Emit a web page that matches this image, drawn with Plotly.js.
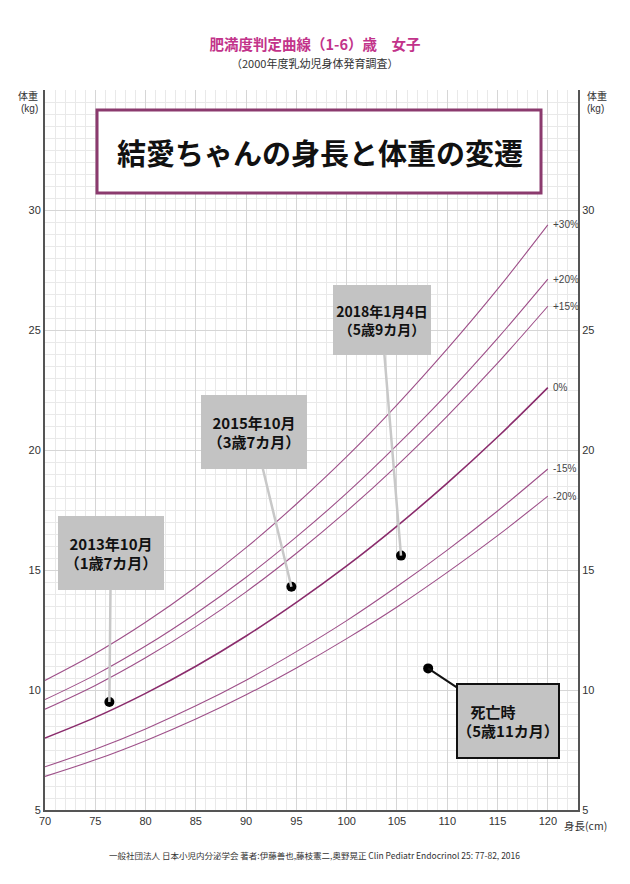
<!DOCTYPE html>
<html>
<head>
<meta charset="utf-8">
<script src="https://cdn.plot.ly/plotly-3.0.1.min.js"></script>
<style>html,body{margin:0;padding:0;background:#fff;}#chart{width:630px;height:884px;}</style>
</head>
<body>
<div id="chart"></div>
<script>
// Height (cm)
const heights = [70, 75, 80, 85, 90, 95, 100, 105, 110, 115, 120];
// Weight curves (kg) by overweight degree
const curvePlus30  = [10.40, 11.52, 12.82, 14.29, 15.93, 17.75, 19.72, 21.88, 24.21, 26.70, 29.38];
const curvePlus20  = [9.60, 10.63, 11.83, 13.19, 14.70, 16.38, 18.20, 20.20, 22.34, 24.65, 27.12];
const curvePlus15  = [9.20, 10.19, 11.34, 12.64, 14.09, 15.70, 17.45, 19.35, 21.41, 23.62, 25.99];
const curveZero    = [8.00, 8.86, 9.86, 10.99, 12.25, 13.65, 15.17, 16.83, 18.62, 20.54, 22.60];
const curveMinus15 = [6.80, 7.53, 8.38, 9.34, 10.41, 11.60, 12.89, 14.31, 15.83, 17.46, 19.21];
const curveMinus20 = [6.40, 7.09, 7.89, 8.79, 9.80, 10.92, 12.14, 13.46, 14.90, 16.43, 18.08];
const curveLabels = ['+30%', '+20%', '+15%', '0%', '-15%', '-20%'];

// Measurements of the child
const pointHeights = [76.4, 94.5, 105.4, 108.1];
const pointWeights = [9.5, 14.3, 15.6, 10.9];
const pointLabels = [
  '2013年10月<br>（1歳7カ月）',
  '2015年10月<br>（3歳7カ月）',
  '2018年1月4日<br>（5歳9カ月）',
  '死亡時　　<br>（5歳11カ月）'
];

const xTicks = [70, 75, 80, 85, 90, 95, 100, 105, 110, 115, 120];
const yTicks = [5, 10, 15, 20, 25, 30];

const curves = [curvePlus30, curvePlus20, curvePlus15, curveZero, curveMinus15, curveMinus20];
const traces = curves.map((c, i) => ({
  x: heights, y: c, type: 'scatter', mode: 'lines',
  line: {shape: 'spline', color: i === 3 ? '#8a2c6c' : '#9e5089', width: i === 3 ? 1.6 : 1.1},
  hoverinfo: 'skip', showlegend: false
}));
traces.push({
  x: pointHeights, y: pointWeights, type: 'scatter', mode: 'markers',
  marker: {color: '#000', size: 10}, showlegend: false, hoverinfo: 'skip'
});
traces.push({
  x: [70], y: [5], yaxis: 'y2', type: 'scatter', mode: 'markers',
  marker: {opacity: 0}, showlegend: false, hoverinfo: 'skip'
});

const tickFont = {family: 'Liberation Sans, Arial, sans-serif', size: 11, color: '#333'};
const jp = 'Noto Sans CJK JP, sans-serif';

const annotations = [];
curves.forEach((c, i) => {
  annotations.push({
    x: 120.3, y: c[c.length - 1], xref: 'x', yref: 'y', xanchor: 'left', yanchor: 'middle',
    text: curveLabels[i], showarrow: false,
    font: {family: 'Liberation Sans, Arial, sans-serif', size: 10, color: '#444'}
  });
});
const boxOffsets = [[1.5, -149], [-37.5, -155], [-19.5, -236], [80, 53]];
const boxSizes = [[100, 68], [100, 68], [92, 64], [94, 66]];
pointLabels.forEach((t, i) => {
  annotations.push({
    x: pointHeights[i], y: pointWeights[i], xref: 'x', yref: 'y',
    text: '<b>' + t + '</b>', showarrow: true, arrowhead: 0, standoff: 0,
    ax: boxOffsets[i][0], ay: boxOffsets[i][1],
    arrowcolor: i === 3 ? '#111' : '#c8c8c8', arrowwidth: i === 3 ? 2 : 2.5,
    bgcolor: '#c3c3c3', bordercolor: i === 3 ? '#111' : 'rgba(0,0,0,0)', borderwidth: i === 3 ? 2 : 0,
    borderpad: 3, width: boxSizes[i][0], height: boxSizes[i][1],
    align: 'center', valign: 'middle',
    font: {family: jp, size: i === 2 ? 14 : 15, color: '#111'}
  });
});
annotations.push({
  x: 0.516, y: 0.9139, xref: 'paper', yref: 'paper', showarrow: false, yanchor: 'middle',
  text: '<b>結愛ちゃんの身長と体重の変遷</b>',
  font: {family: jp, size: 29, color: '#111'}
});
annotations.push({
  x: 0.505, y: 1.0375, xref: 'paper', yref: 'paper', showarrow: false, yanchor: 'middle',
  text: '（2000年度乳幼児身体発育調査）', font: {family: jp, size: 11, color: '#333'}
});
// weight axis titles, left and right (two lines each)
[[-0.009, 'right'], [1.013, 'left']].forEach(([px, anc]) => {
  annotations.push({
    x: px, y: 0.9917, xref: 'paper', yref: 'paper', xanchor: anc, yanchor: 'middle', showarrow: false,
    text: '体重', font: {family: jp, size: 10, color: '#333'}
  });
  annotations.push({
    x: px, y: 0.9745, xref: 'paper', yref: 'paper', xanchor: anc, yanchor: 'middle', showarrow: false,
    text: '(kg)', font: {family: 'Liberation Sans, Arial, sans-serif', size: 10, color: '#333'}
  });
});
annotations.push({
  x: 0.970, y: -0.021, xref: 'paper', yref: 'paper', xanchor: 'left', yanchor: 'middle', showarrow: false,
  text: '身長(cm)', font: {family: jp, size: 10.5, color: '#333'}
});
annotations.push({
  x: 0.505, y: -0.0625, xref: 'paper', yref: 'paper', showarrow: false, yanchor: 'middle',
  text: '一般社団法人 日本小児内分泌学会 著者:伊藤善也,藤枝憲二,奥野晃正 Clin Pediatr Endocrinol 25: 77-82, 2016',
  font: {family: jp, size: 8.5, color: '#333'}
});

const layout = {
  width: 630, height: 884,
  margin: {l: 45, r: 52, t: 90, b: 74},
  paper_bgcolor: '#fff', plot_bgcolor: '#fff',
  title: {
    text: '<b>肥満度判定曲線（1-6）歳　女子</b>', x: 0.5, xanchor: 'center',
    y: 1 - 45 / 884, yanchor: 'middle', yref: 'container',
    font: {family: jp, size: 14.5, color: '#c2338a'}
  },
  xaxis: {
    range: [70, 123], tickvals: xTicks, ticks: '', tickfont: tickFont,
    showgrid: true, gridcolor: '#d6d6d6', gridwidth: 1,
    minor: {dtick: 1, tick0: 70, showgrid: true, gridcolor: '#e9e9e9', gridwidth: 1},
    showline: true, linecolor: '#555', linewidth: 2, zeroline: false, fixedrange: true
  },
  yaxis: {
    range: [5, 35], tickvals: yTicks, ticks: '', tickfont: tickFont,
    showgrid: true, gridcolor: '#d6d6d6', gridwidth: 1,
    minor: {dtick: 0.5, tick0: 5, showgrid: true, gridcolor: '#e9e9e9', gridwidth: 1},
    showline: true, linecolor: '#555', linewidth: 2, zeroline: false, fixedrange: true
  },
  yaxis2: {
    range: [5, 35], tickvals: yTicks, ticks: '', tickfont: tickFont,
    overlaying: 'y', side: 'right', showgrid: false,
    showline: true, linecolor: '#555', linewidth: 2, zeroline: false, fixedrange: true
  },
  shapes: [{
    type: 'rect', xref: 'paper', yref: 'paper',
    x0: 0.0976, x1: 0.9306, y0: 0.8569, y1: 0.9722,
    line: {color: '#8b3a6e', width: 3}, fillcolor: '#fff', layer: 'above'
  }],
  annotations: annotations,
  showlegend: false
};

Plotly.newPlot('chart', traces, layout, {staticPlot: true, displayModeBar: false});
</script>
</body>
</html>
